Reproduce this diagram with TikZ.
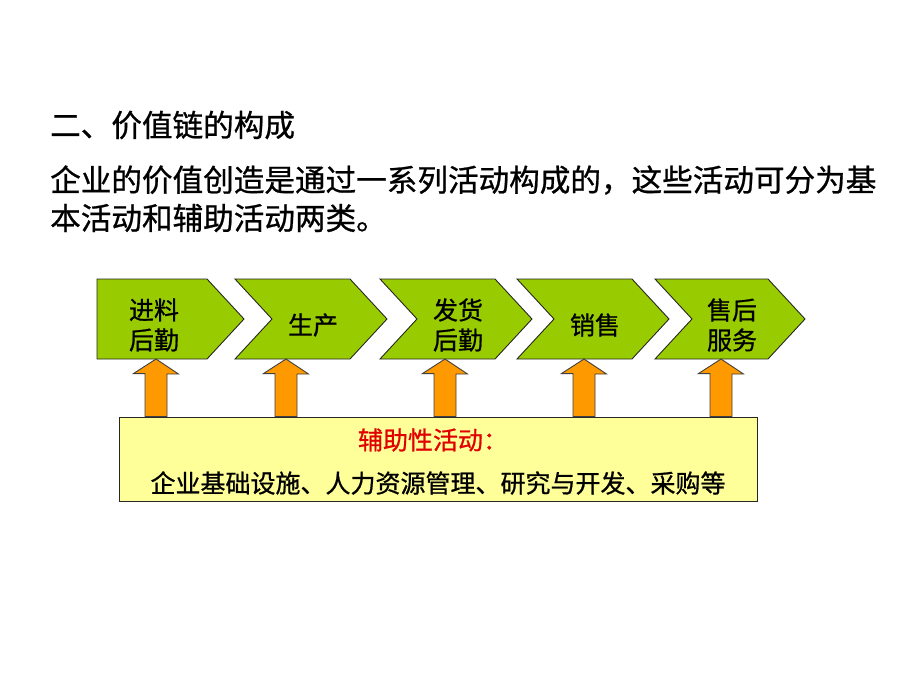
\documentclass[tikz,border=0pt]{standalone}
\usepackage{fontspec}
\setmainfont{Liberation Sans}
\newfontfamily\cjk{Noto Sans CJK SC}[FakeBold=0.8]
\usetikzlibrary{positioning}
\definecolor{chevgreen}{HTML}{99CC00}
\definecolor{arroworange}{HTML}{FF9900}
\definecolor{supportyellow}{HTML}{FFFF99}
\definecolor{supportred}{HTML}{E00000}
\tikzset{
  chevron/.style={fill=chevgreen, draw=black!85, line width=0.9pt},
  uparrow/.style={fill=arroworange, draw=black!75, line width=0.9pt},
  steptext/.style={font=\cjk\fontsize{25}{30}\selectfont, align=center, inner sep=0pt},
  bodytext/.style={font=\cjk\fontsize{30.6}{38}\selectfont, align=left, inner sep=0pt, anchor=west},
}
\begin{document}
\begin{tikzpicture}[x=1pt, y=-1pt]
  \useasboundingbox (0,0) rectangle (920,690);
  % heading and intro
  \node (title) [bodytext] at (50,125) {二、价值链的构成};
  \node (introa) [bodytext] at (50,180) {企业的价值创造是通过一系列活动构成的，这些活动可分为基};
  \node (introb) [bodytext] at (50,218) {本活动和辅助活动两类。};
  % support activities
  \node (support) [draw=black!85, line width=0.9pt, fill=supportyellow,
        minimum width=638pt, minimum height=84pt] at (438,459) {};
  \node (supporthead) [steptext, text=supportred] at (433,440) {辅助性活动：};
  \node (supportlist) [steptext] at (438,483) {企业基础设施、人力资源管理、研究与开发、采购等};
  % primary activities
  \foreach \l/\w/\n/\ax/\name/\txt in {97/110/0/156/inbound/进料\\后勤,
        235/115/37/286/operations/生产,
        380/115/37/445/outbound/发货\\后勤,
        517/115/37/584/sales/销售,
        655/113/37/721/service/售后\\服务} {
    \draw[chevron] (\l,279) -- (\l+\w,279) -- (\l+\w+37,319) -- (\l+\w,359)
          -- (\l,359) -- (\l+\n,319) -- cycle;
    \node (\name) [steptext] at ({\l+(\n+\w)/2+2},325) {\txt};
    \coordinate (\name-foot) at (\ax,359);
    \draw[uparrow] (support.north -| \name-foot) ++(-11,0) -- ++(0,-43) -- ++(-11.5,0)
          -- (\name-foot) -- ++(22.5,15) -- ++(-11.5,0) -- (support.north -| {\ax+11,0}) -- cycle;
  }
\end{tikzpicture}
\end{document}
